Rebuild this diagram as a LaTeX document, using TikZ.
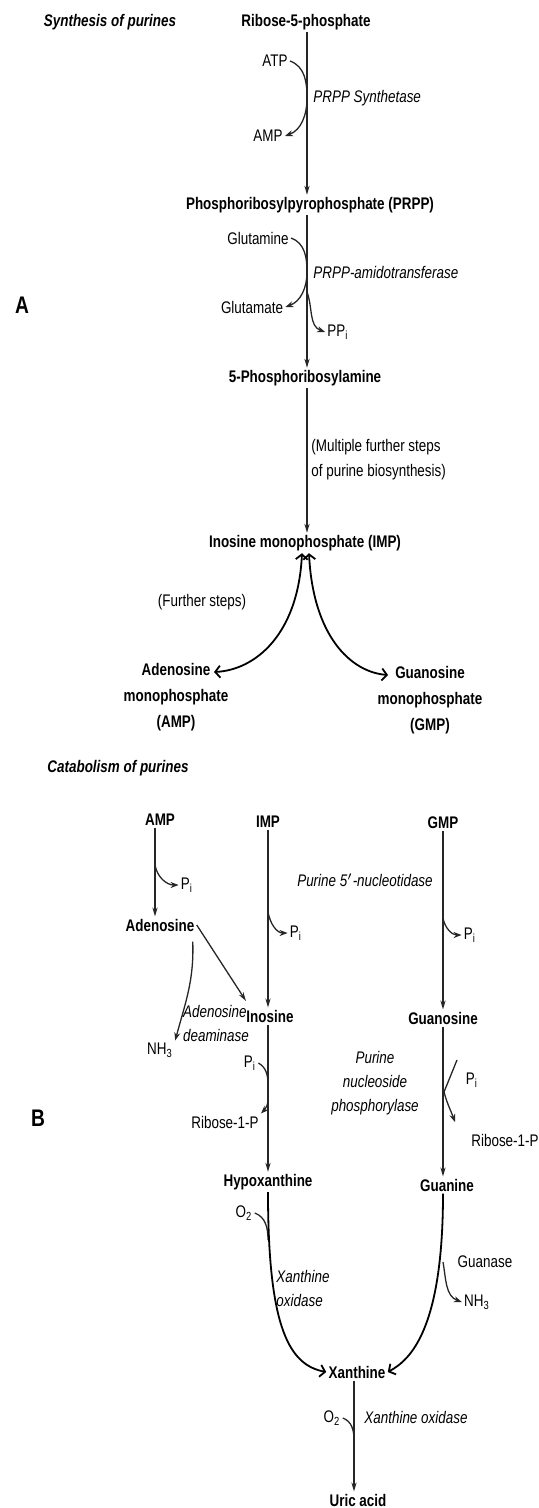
\documentclass[tikz,border=0pt]{standalone}
\usepackage{fontspec}
\setmainfont{Liberation Sans}[FakeStretch=0.8]
\usetikzlibrary{arrows.meta, positioning}

\begin{document}
\begin{tikzpicture}[
  x=0.5pt, y=-0.5pt,
  every node/.style={inner sep=1pt, font=\fontsize{8.4}{10.5}\selectfont},
  met/.style={font=\fontsize{8.4}{13}\selectfont\bfseries, align=center},
  enz/.style={font=\fontsize{8.4}{12}\selectfont\itshape},
  title/.style={font=\fontsize{8.4}{10.5}\selectfont\bfseries\itshape},
  panel/.style={font=\fontsize{12}{14}\selectfont\bfseries},
  rxn/.style={draw=black!85, line width=0.65pt, -{Stealth[length=4.5pt,width=2.6pt]}},
  sidearr/.style={draw=black!85, line width=0.65pt, -{Stealth[length=4pt,width=3pt]}},
  sideline/.style={draw=black!85, line width=0.65pt},
  twoway/.style={line width=0.9pt, {Straight Barb[length=2.5pt,width=6pt]}-{Straight Barb[length=2.5pt,width=6pt]}},
  merge/.style={line width=0.9pt, -{Straight Barb[length=2.5pt,width=6pt]}}
]
  \useasboundingbox (0,0) rectangle (539,1508);

  % A: synthesis
  \node[title] (syntitle) at (110,22) {Synthesis of purines};
  \node[panel] (labA) at (22,305) {A};
  \node[met] (rib5p) at (306,22) {Ribose-5-phosphate};
  \node (atp) at (275,61) {ATP};
  \node (amp1) at (268,136) {AMP};
  \node[enz, anchor=west] (prppsyn) at (311,98) {PRPP Synthetase};
  \node[met] (prpp) at (310,205) {Phosphoribosylpyrophosphate (PRPP)};
  \node (gln) at (258,238) {Glutamine};
  \node (glu) at (252,307) {Glutamate};
  \node (ppi) at (338,332) {PP\textsubscript{i}};
  \node[enz, anchor=west] (amidotr) at (311,273) {PRPP-amidotransferase};
  \node[met] (pra) at (305,378) {5-Phosphoribosylamine};
  \node[anchor=west, align=left, font=\fontsize{8.4}{12.5}\selectfont] (multi) at (309,460) {(Multiple further steps\\of purine biosynthesis)};
  \node[met] (imp) at (305,543) {Inosine monophosphate (IMP)};
  \node (further) at (202,602) {(Further steps)};
  \node[met] (amp) at (176,697) {Adenosine\\monophosphate\\(AMP)};
  \node[met] (gmp) at (430,700) {Guanosine\\monophosphate\\(GMP)};

  \coordinate (j1) at (307,98);
  \coordinate (j2) at (307,272);
  \coordinate (j3) at (307,292);
  \coordinate (ampin) at (214,672);
  \coordinate (gmpin) at (388,675);

  \draw[rxn] (rib5p.south -| 307,0) -- (prpp.north -| 307,0);
  \draw[sidearr] (atp.east) to[out=-20, in=90] (j1) to[out=-90, in=20] (amp1.east);
  \draw[rxn] (prpp.south -| 307,0) -- (pra.north -| 307,0);
  \draw[sidearr] (gln.east) to[out=-20, in=90] (j2) to[out=-90, in=20] (glu.east);
  \draw[sidearr] (j3) to[out=-70, in=160] (ppi.west);
  \draw[rxn] (pra.south -| 307,0) -- (imp.north -| 307,0);
  \draw[twoway] (imp.south -| 302,0) .. controls (298,635) and (255,670) .. (ampin);
  \draw[twoway] (imp.south -| 309,0) .. controls (313,635) and (350,672) .. (gmpin);

  % B: catabolism
  \node[title] (cattitle) at (118,768) {Catabolism of purines};
  \node[panel] (labB) at (38,1118) {B};
  \node[met] (bamp) at (160,820) {AMP};
  \node[met] (bimp) at (268,822) {IMP};
  \node[met] (bgmp) at (443,823) {GMP};
  \node (pia) at (187,885) {P\textsubscript{i}};
  \node (pib) at (296,933) {P\textsubscript{i}};
  \node (pic) at (470,935) {P\textsubscript{i}};
  \node[enz] (nucl) at (365,880) {Purine 5$'$-nucleotidase};
  \node[met] (adeno) at (160,925) {Adenosine};
  \node[met] (ino) at (270,1016) {Inosine};
  \node[met] (guano) at (443,1018) {Guanosine};
  \node[enz, align=left] (ada) at (216,1023) {Adenosine\\deaminase};
  \node (nh3a) at (160,1050) {NH\textsubscript{3}};
  \node (pid) at (250,1063) {P\textsubscript{i}};
  \node (rib1a) at (225,1122) {Ribose-1-P};
  \node[enz, align=center] (pnp) at (375,1083) {Purine\\nucleoside\\phosphorylase};
  \node (pie) at (472,1080) {P\textsubscript{i}};
  \node (rib1b) at (505,1140) {Ribose-1-P};
  \node[met] (hypox) at (268,1182) {Hypoxanthine};
  \node[met] (guan) at (447,1185) {Guanine};
  \node (o2a) at (244,1213) {O\textsubscript{2}};
  \node[enz, align=left] (xo1) at (303,1288) {Xanthine\\oxidase};
  \node (guanase) at (485,1262) {Guanase};
  \node (nh3b) at (477,1302) {NH\textsubscript{3}};
  \node[met] (xan) at (357,1372) {Xanthine};
  \node (o2b) at (332,1418) {O\textsubscript{2}};
  \node[enz, anchor=west] (xo2) at (362,1417) {Xanthine oxidase};
  \node[met] (uric) at (358,1500) {Uric acid};

  \coordinate (ka) at (155,865);
  \coordinate (kb) at (268,912);
  \coordinate (kc) at (443,918);
  \coordinate (kd) at (268,1085);
  \coordinate (ke1) at (457,1060);
  \coordinate (ke2) at (444,1092);
  \coordinate (ke3) at (455,1122);
  \coordinate (kf) at (268,1240);
  \coordinate (kg) at (443,1262);
  \coordinate (kh) at (354,1440);
  \coordinate (inotop) at (246,1001);

  \draw[rxn] (bamp.south -| 155,0) -- (adeno.north -| 155,0);
  \draw[sidearr] (ka) to[out=-80, in=180] (pia.west);
  \draw[rxn] (bimp.south) -- (ino.north -| bimp.south);
  \draw[sidearr] (kb) to[out=-80, in=180] (pib.west);
  \draw[rxn] (bgmp.south) -- (guano.north -| bgmp.south);
  \draw[sidearr] (kc) to[out=-80, in=180] (pic.west);
  \draw[rxn] (adeno.east) -- (inotop);
  \draw[sidearr] (adeno.south east) ++(-4,8) to[out=-88, in=75] (nh3a.north east);
  \draw[rxn] (ino.south -| 268,0) -- (hypox.north -| 268,0);
  \draw[sidearr] (pid.east) to[out=-30, in=90] (kd) to[out=-90, in=45] (rib1a.north east);
  \draw[rxn] (guano.south) -- (guan.north -| guano.south);
  \draw[sidearr] (ke1) -- (ke2) to[out=-75, in=110] (ke3);
  \draw[sideline] (o2a.east) to[out=-20, in=90] (kf);
  \draw[merge] (hypox.south -| 268,0) .. controls (268,1330) and (290,1365) .. (xan.west);
  \draw[merge] (guan.south -| 443,0) .. controls (443,1330) and (410,1360) .. (xan.east);
  \draw[sidearr] (kg) to[out=-80, in=160] (nh3b.west);
  \draw[sideline] (o2b.east) to[out=-20, in=90] (kh);
  \draw[rxn] (xan.south -| 354,0) -- (uric.north -| 354,0);
\end{tikzpicture}
\end{document}
